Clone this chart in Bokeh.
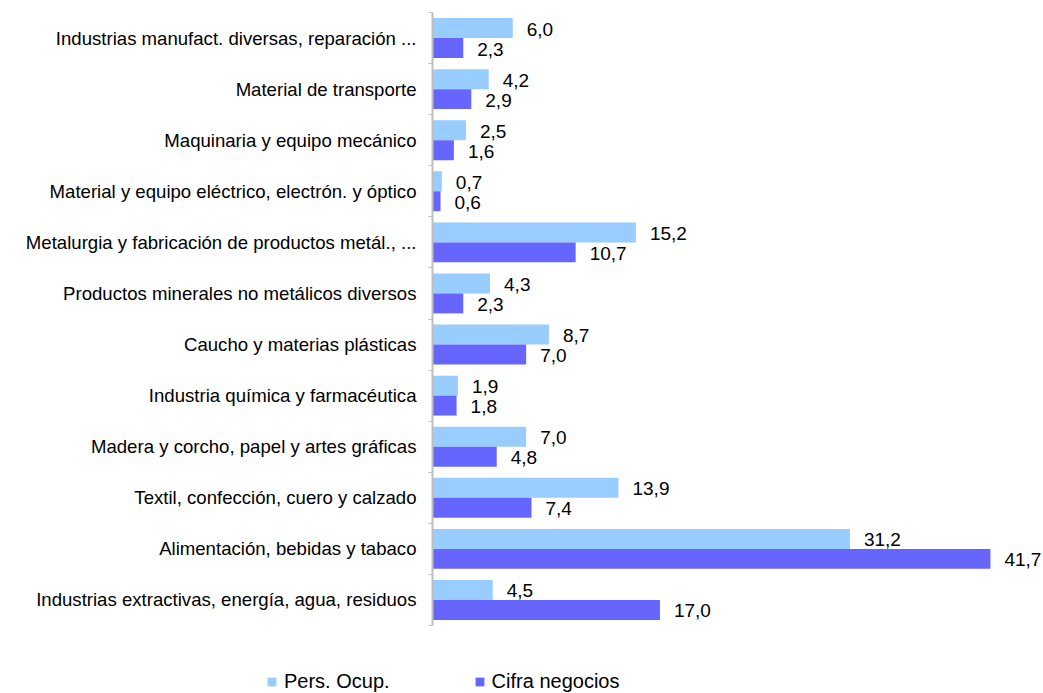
from bokeh.plotting import figure
from bokeh.models import (ColumnDataSource, Range1d, FixedTicker, LinearAxis,
                          LabelSet, Legend, LegendItem)
from bokeh.core.properties import value
from bokeh.embed import file_html
from bokeh.resources import INLINE

# Data (top to bottom as displayed)
categories = [
    "Industrias manufact. diversas, reparación ...",
    "Material de transporte",
    "Maquinaria y equipo mecánico",
    "Material y equipo eléctrico, electrón. y óptico",
    "Metalurgia y fabricación de productos metál., ...",
    "Productos minerales no metálicos diversos",
    "Caucho y materias plásticas",
    "Industria química y farmacéutica",
    "Madera y corcho, papel y artes gráficas",
    "Textil, confección, cuero y calzado",
    "Alimentación, bebidas y tabaco",
    "Industrias extractivas, energía, agua, residuos",
]
pers_ocup = [6.0, 4.2, 2.5, 0.7, 15.2, 4.3, 8.7, 1.9, 7.0, 13.9, 31.2, 4.5]
cifra_negocios = [2.3, 2.9, 1.6, 0.6, 10.7, 2.3, 7.0, 1.8, 4.8, 7.4, 41.7, 17.0]
series_names = ["Pers. Ocup.", "Cifra negocios"]
colors = ["#99CCFF", "#6666FF"]

n = len(categories)
centers = [n - 1 - i + 0.5 for i in range(n)]
bar_h = 0.39

def fmt(v):
    return f"{v:.1f}".replace(".", ",")

src1 = ColumnDataSource(dict(y=[c + bar_h / 2 for c in centers], v=pers_ocup,
                             t=[fmt(v) for v in pers_ocup]))
src2 = ColumnDataSource(dict(y=[c - bar_h / 2 for c in centers], v=cifra_negocios,
                             t=[fmt(v) for v in cifra_negocios]))

FONT = "Liberation Sans"
W, H = 1043, 693
AX_PX, TOP_PX, BOT_PX = 432, 12, 625
xs = 13.38                      # px per unit
ys = (BOT_PX - TOP_PX) / n      # px per category

p = figure(width=W, height=H, output_backend="svg", toolbar_location=None,
           x_range=Range1d(-AX_PX / xs, (W - AX_PX) / xs),
           y_range=Range1d(-(H - BOT_PX) / ys, n + TOP_PX / ys),
           min_border=0, x_axis_location=None, y_axis_location=None)
p.outline_line_color = None
p.grid.visible = False
p.background_fill_color = "white"
p.border_fill_color = "white"

r1 = p.hbar(y="y", right="v", left=0, height=bar_h, source=src1,
            fill_color=colors[0], line_color=None)
r2 = p.hbar(y="y", right="v", left=0, height=bar_h, source=src2,
            fill_color=colors[1], line_color=None)

# axis with boundary ticks
ax = LinearAxis(ticker=FixedTicker(ticks=list(range(n + 1))), fixed_location=0,
                bounds=(0, n))
ax.major_tick_out = 4
ax.major_tick_in = 0
ax.minor_tick_line_color = None
ax.axis_line_color = "#BEBEBE"
ax.axis_line_width = 2
ax.major_tick_line_color = "#BEBEBE"
ax.major_tick_line_width = 1
ax.major_label_overrides = {i: "" for i in range(n + 1)}
ax.major_label_text_font_size = "1px"
p.add_layout(ax, "left")

# axis with category labels
ax2 = LinearAxis(ticker=FixedTicker(ticks=centers), fixed_location=0)
ax2.major_label_overrides = {c: cat for c, cat in zip(centers, categories)}
ax2.axis_line_color = None
ax2.major_tick_line_color = None
ax2.minor_tick_line_color = None
ax2.major_tick_out = 0
ax2.major_tick_in = 0
ax2.major_label_standoff = 16
ax2.major_label_text_font = FONT
ax2.major_label_text_font_size = "18.6px"
ax2.major_label_text_color = "#000000"
p.add_layout(ax2, "left")

for s in (src1, src2):
    p.add_layout(LabelSet(x="v", y="y", text="t", source=s, x_offset=14, y_offset=-1,
                          text_baseline="middle", text_align="left",
                          text_font=value(FONT), text_font_size=value("19px"),
                          text_color=value("#000000")))

legend = Legend(items=[LegendItem(label=series_names[0], renderers=[r1]),
                       LegendItem(label=series_names[1], renderers=[r2])],
                orientation="horizontal", location=(266, 0))
legend.border_line_color = None
legend.background_fill_alpha = 0
legend.padding = 0
legend.margin = 0
legend.spacing = 84
legend.glyph_width = 11
legend.glyph_height = 11
legend.label_standoff = 7
legend.label_text_font = FONT
legend.label_text_font_size = "20px"
legend.label_text_color = "#000000"
legend.label_height = 20
p.add_layout(legend, "center")

open("out.html", "w").write(file_html(p, INLINE))
